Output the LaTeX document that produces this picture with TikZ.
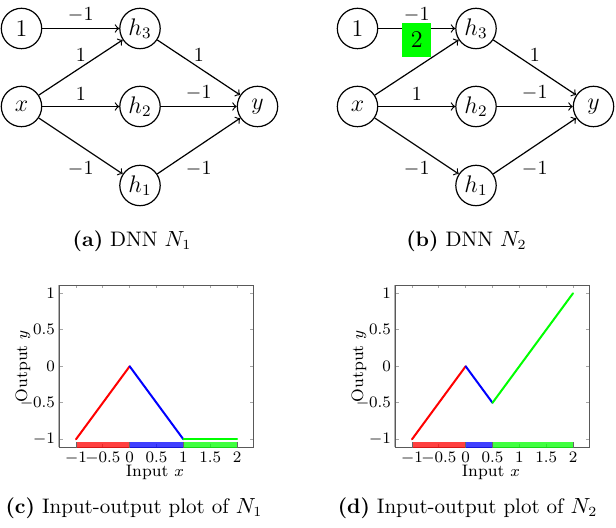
\documentclass[tikz,border=0pt]{standalone}
\begin{document}
\begin{tikzpicture}[x=0.5pt,y=-0.5pt,
  neuron/.style={circle,draw,line width=0.6pt,minimum size=20.2pt,inner sep=0pt,font=\fontsize{12}{14}\selectfont},
  wlab/.style={font=\fontsize{10}{12}\selectfont,inner sep=0pt},
  wab/.style={wlab,above=2.8pt},
  wbe/.style={wlab,below=7.5pt},
  conn/.style={->,line width=0.6pt},
  hl/.style={fill=green,minimum width=14.5pt,minimum height=17pt,inner sep=0pt,font=\fontsize{12}{14}\selectfont},
  capt/.style={font=\fontsize{10.5}{12}\selectfont,inner sep=0pt},
  frame/.style={draw=black!65,line width=0.5pt},
  tck/.style={draw=black!35,line width=0.4pt},
  ticklab/.style={font=\fontsize{8}{9}\selectfont,inner sep=0pt},
  axlab/.style={font=\fontsize{8.3}{10}\selectfont,inner sep=0pt},
  curve/.style={line width=1pt,line cap=round},
  bar/.style={line width=2.6pt,opacity=0.75},
  barsep/.style={draw=black!60,line width=0.5pt}
]
\useasboundingbox (0,0) rectangle (616,528);

% ---------------- (a) DNN N1 ----------------
\node[neuron] (a1)  at (21.5,28.5)  {$1$};
\node[neuron] (ah3) at (140,28.5)   {$h_3$};
\node[neuron] (ax)  at (21.5,106.5) {$x$};
\node[neuron] (ah2) at (140,106.5)  {$h_2$};
\node[neuron] (ah1) at (140,185.5)  {$h_1$};
\node[neuron] (ay)  at (257.5,106.5){$y$};
\draw[conn] (a1) -- node[wab]{$-1$} (ah3);
\draw[conn] (ax) -- node[wab]{$1$} (ah3);
\draw[conn] (ax) -- node[wab]{$1$} (ah2);
\draw[conn] (ax) -- node[wbe]{$-1$} (ah1);
\draw[conn] (ah3) -- node[wab]{$1$} (ay);
\draw[conn] (ah2) -- node[wab]{$-1$} (ay);
\draw[conn] (ah1) -- node[wbe]{$-1$} (ay);
\node[capt] (capa) at (132,241) {\textbf{(a)} DNN $N_1$};

% ---------------- (b) DNN N2 ----------------
\node[neuron] (b1)  at (357.5,28.5)  {$1$};
\node[neuron] (bh3) at (476,28.5)    {$h_3$};
\node[neuron] (bx)  at (357.5,106.5) {$x$};
\node[neuron] (bh2) at (476,106.5)   {$h_2$};
\node[neuron] (bh1) at (476,185.5)   {$h_1$};
\node[neuron] (by)  at (593.5,106.5) {$y$};
\draw[conn] (b1) -- node[wab]{$-1$} (bh3);
\draw[conn] (bx) -- (bh3);
\draw[conn] (bx) -- node[wab]{$1$} (bh2);
\draw[conn] (bx) -- node[wbe]{$-1$} (bh1);
\draw[conn] (bh3) -- node[wab]{$1$} (by);
\draw[conn] (bh2) -- node[wab]{$-1$} (by);
\draw[conn] (bh1) -- node[wbe]{$-1$} (by);
\path (bx) -- node[hl,above=5pt] (w2) {$2$} (bh3);
\node[capt] (capb) at (466.5,241) {\textbf{(b)} DNN $N_2$};

% ---------------- (c) plot of N1 ----------------
\begin{scope}[shift={(129.67,366.3)},x=26.835pt,y=36.5pt]
  \foreach \t in {-1,-0.5,0,0.5,1,1.5,2}{
    \draw[tck] (\t,-1.11) -- ++(0pt,1.6pt);
    \draw[tck] (\t,1.11) -- ++(0pt,-1.6pt);}
  \foreach \t in {-1,-0.5,0,0.5,1}{
    \draw[tck] (-1.31,\t) -- ++(1.6pt,0pt);
    \draw[tck] (2.30,\t) -- ++(-1.6pt,0pt);}
  \draw[frame] (-1.31,-1.11) rectangle (2.30,1.11);
  \draw[draw=black!30,line width=0.6pt] (-1.31,-1.11) ++(-0.45pt,0pt) -- ++(0pt,81.03pt);
  \foreach \t/\l in {-1/-1,-0.5/-0.5,0/0,0.5/0.5,1/1,1.5/1.5,2/2}{
    \node[ticklab,anchor=north] at (\t,-1.11) [yshift=-2pt] {$\l$};}
  \foreach \t/\l in {-1/-1,-0.5/-0.5,0/0,0.5/0.5,1/1}{
    \node[ticklab,anchor=east] at (-1.31,\t) [xshift=-2pt] {$\l$};}
  \node[axlab] (cxl) at (0.47,-1.45) {Input $x$};
  \node[axlab,rotate=90] (cyl) at (-1.99,0) {Output $y$};
  \draw[curve,red] (-1,-1) -- (0,0);
  \draw[curve,blue] (0,0) -- (1,-1);
  \draw[curve,green] (1,-1) -- (2,-1);
  \draw[bar,red] (-1,-1.078) -- (0,-1.078);
  \draw[bar,blue] (0,-1.078) -- (1,-1.078);
  \draw[bar,green] (1,-1.078) -- (2,-1.078);
  \foreach \t in {-1,0,1,2}{\draw[barsep] (\t,-1.078) ++(0pt,-1.3pt) -- ++(0pt,2.6pt);}
\end{scope}
\node[capt] (capc) at (134,508) {\textbf{(c)} Input-output plot of $N_1$};

% ---------------- (d) plot of N2 ----------------
\begin{scope}[shift={(465.67,366.3)},x=26.835pt,y=36.5pt]
  \foreach \t in {-1,-0.5,0,0.5,1,1.5,2}{
    \draw[tck] (\t,-1.11) -- ++(0pt,1.6pt);
    \draw[tck] (\t,1.11) -- ++(0pt,-1.6pt);}
  \foreach \t in {-1,-0.5,0,0.5,1}{
    \draw[tck] (-1.31,\t) -- ++(1.6pt,0pt);
    \draw[tck] (2.30,\t) -- ++(-1.6pt,0pt);}
  \draw[frame] (-1.31,-1.11) rectangle (2.30,1.11);
  \draw[draw=black!30,line width=0.6pt] (-1.31,-1.11) ++(-0.45pt,0pt) -- ++(0pt,81.03pt);
  \foreach \t/\l in {-1/-1,-0.5/-0.5,0/0,0.5/0.5,1/1,1.5/1.5,2/2}{
    \node[ticklab,anchor=north] at (\t,-1.11) [yshift=-2pt] {$\l$};}
  \foreach \t/\l in {-1/-1,-0.5/-0.5,0/0,0.5/0.5,1/1}{
    \node[ticklab,anchor=east] at (-1.31,\t) [xshift=-2pt] {$\l$};}
  \node[axlab] (dxl) at (0.47,-1.45) {Input $x$};
  \node[axlab,rotate=90] (dyl) at (-1.99,0) {Output $y$};
  \draw[curve,red] (-1,-1) -- (0,0);
  \draw[curve,blue] (0,0) -- (0.5,-0.5);
  \draw[curve,green] (0.5,-0.5) -- (2,1);
  \draw[bar,red] (-1,-1.078) -- (0,-1.078);
  \draw[bar,blue] (0,-1.078) -- (0.5,-1.078);
  \draw[bar,green] (0.5,-1.078) -- (2,-1.078);
  \foreach \t in {-1,0,0.5,2}{\draw[barsep] (\t,-1.078) ++(0pt,-1.3pt) -- ++(0pt,2.6pt);}
\end{scope}
\node[capt] (capd) at (467.5,508) {\textbf{(d)} Input-output plot of $N_2$};
\end{tikzpicture}
\end{document}
